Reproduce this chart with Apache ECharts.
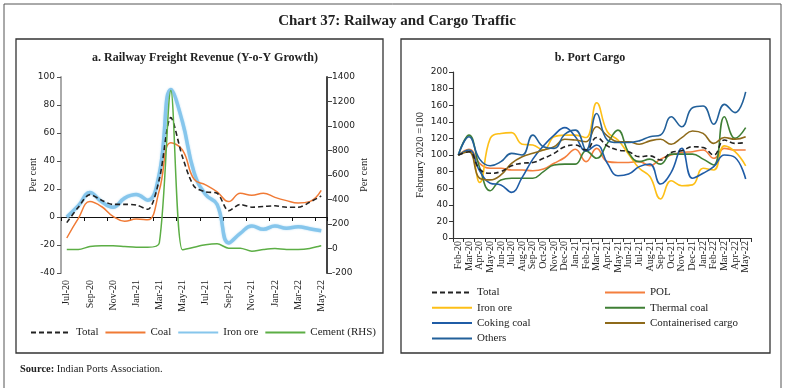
<!DOCTYPE html>
<html>
<head>
<meta charset="utf-8">
<script src="https://cdn.jsdelivr.net/npm/echarts@6/dist/echarts.min.js"></script>
<style>
html,body{margin:0;padding:0;background:#fff;}
#chart{width:785px;height:388px;}
</style>
</head>
<body>
<div id="chart"></div>
<script>
// ---------- Panel a: Railway Freight Revenue (Y-o-Y growth, per cent) ----------
const railMonths = ['Jul-20','Aug-20','Sep-20','Oct-20','Nov-20','Dec-20','Jan-21','Feb-21','Mar-21','Apr-21','May-21','Jun-21','Jul-21','Aug-21','Sep-21','Oct-21','Nov-21','Dec-21','Jan-22','Feb-22','Mar-22','Apr-22','May-22'];
const railTotal   = [-4, 7, 16, 12, 9, 9, 8.5, 5.5, 27, 71, 43, 22, 18, 17, 4.5, 9, 7, 7.5, 8, 7, 7, 10.5, 15];
const railCoal    = [-15, -1, 11, 7.5, 0.5, -3, -1.5, -2, 19, 53, 48, 27, 23, 18, 11, 17, 15.5, 17, 14, 11.7, 10, 11, 19];
const railIronOre = [0, 8, 17.5, 11, 7, 13.5, 16, 12, 31, 91, 68, 32, 16, 9, -18.5, -11.7, -6.4, -8.8, -6.4, -8, -7, -8.4, -9.8];
const railCement  = [-8, -8, 16, 22, 22, 16, 10, 10, 45, 1290, -11, 10, 30, 38, 3, 3, -22, -8, 0, -8, -8, 0, 24];
const leftTicks   = {min: -40, max: 100, interval: 20};
const rightTicks  = {min: -200, max: 1400, interval: 200};

// ---------- Panel b: Port Cargo (February 2020 = 100) ----------
const portMonths = ['Feb-20','Mar-20','Apr-20','May-20','Jun-20','Jul-20','Aug-20','Sep-20','Oct-20','Nov-20','Dec-20','Jan-21','Feb-21','Mar-21','Apr-21','May-21','Jun-21','Jul-21','Aug-21','Sep-21','Oct-21','Nov-21','Dec-21','Jan-22','Feb-22','Mar-22','Apr-22','May-22'];
const portTotal     = [100,104,83,78,80,87,90,91,96,102,110,112,106,121,111,106,104,98,99,94,103,105,110,109,100,118,114,115];
const portPOL       = [100,107,90,84,84,82,82,81,83,90,97,107,92,108,92,91,91,92,87,95,100,103,104,106,96,108,106,106];
const portIronOre   = [100,106,67,120,126,127,113,112,106,122,124,124,121,163,128,118,101,84,74,47,69,63,64,84,82,111,104,87];
const portThermal   = [100,124,85,57,70,72,72,72,80,88,89,89,105,96,114,130,103,92,95,89,101,101,101,95,88,146,120,133];
const portCoking    = [100,106,81,66,64,55,73,95,111,124,133,122,105,112,90,75,77,86,89,65,79,108,72,78,86,100,97,71];
const portContainer = [100,104,72,70,76,90,98,102,106,110,119,118,116,134,123,116,116,113,117,119,113,121,129,126,114,121,119,122];
const portOthers    = [100,122,95,87,92,102,100,124,110,108,125,130,106,150,118,115,115,117,122,124,146,134,157,159,137,161,151,176];
const portTicks = {min: 0, max: 200, interval: 20};

const SERIF = '"Liberation Serif", "DejaVu Serif", serif';
const SANS = '"DejaVu Sans", sans-serif';
const TXT = '#222';

const chart = echarts.init(document.getElementById('chart'), null, {renderer: 'canvas'});

const lineBase = {type: 'line', symbol: 'none', smooth: 0.45};
const plain = v => String(v);

const option = {
  animation: false,
  backgroundColor: '#fff',
  title: [
    {text: 'Chart 37: Railway and Cargo Traffic', left: 392, top: 9, textAlign: 'center',
     textStyle: {fontFamily: SERIF, fontSize: 15, fontWeight: 'bold', color: '#222'}},
    {text: 'a. Railway Freight Revenue (Y-o-Y Growth)', left: 200, top: 47, textAlign: 'center',
     textStyle: {fontFamily: SERIF, fontSize: 12, fontWeight: 'bold', color: '#222'}},
    {text: 'b. Port Cargo', left: 585, top: 47, textAlign: 'center',
     textStyle: {fontFamily: SERIF, fontSize: 12, fontWeight: 'bold', color: '#222'}},
    {text: '{b|Source:} Indian Ports Association.', left: 15, top: 359,
     textStyle: {fontFamily: SERIF, fontSize: 10.5, fontWeight: 'normal', color: '#222',
       rich: {b: {fontFamily: SERIF, fontSize: 10.5, fontWeight: 'bold', color: '#222'}}}}
  ],
  graphic: [
    {type: 'rect', shape: {x: 4, y: 4, width: 777, height: 400}, style: {fill: 'none', stroke: '#555', lineWidth: 1}, silent: true},
    {type: 'rect', shape: {x: 16, y: 39, width: 367, height: 314}, style: {fill: 'none', stroke: '#333', lineWidth: 1.3}, silent: true},
    {type: 'rect', shape: {x: 401, y: 39, width: 369, height: 314}, style: {fill: 'none', stroke: '#333', lineWidth: 1.3}, silent: true}
  ],
  legend: [
    {data: ['Total', 'Coal', 'Iron ore', 'Cement (RHS)'], left: 30, top: 327, orient: 'horizontal', padding: 0,
     itemWidth: 40, itemHeight: 10, itemGap: 6, selectedMode: false, itemStyle: {opacity: 0},
     textStyle: {fontFamily: SERIF, fontSize: 11, color: TXT}},
    {data: ['Total ', 'Iron ore ', 'Coking coal', 'Others'], left: 431, top: 287, orient: 'vertical', padding: 0,
     itemWidth: 40, itemHeight: 10, itemGap: 4.3, selectedMode: false, itemStyle: {opacity: 0},
     textStyle: {fontFamily: SERIF, fontSize: 11, color: TXT}},
    {data: ['POL', 'Thermal coal', 'Containerised cargo'], left: 604, top: 287, orient: 'vertical', padding: 0,
     itemWidth: 40, itemHeight: 10, itemGap: 4.3, selectedMode: false, itemStyle: {opacity: 0},
     textStyle: {fontFamily: SERIF, fontSize: 11, color: TXT}}
  ],
  grid: [
    {left: 61, top: 77, width: 266, height: 196},
    {left: 453, top: 72, width: 298, height: 166}
  ],
  xAxis: [
    {type: 'category', gridIndex: 0, data: railMonths, boundaryGap: true,
     axisLine: {show: true, onZero: true, onZeroAxisIndex: 0, lineStyle: {color: '#111', width: 1}},
     axisTick: {show: true, interval: 1, length: 4, lineStyle: {color: '#111'}},
     axisLabel: {show: false}, splitLine: {show: false}},
    {type: 'category', gridIndex: 0, data: railMonths, boundaryGap: true, position: 'bottom',
     axisLine: {show: false, onZero: false}, axisTick: {show: false},
     axisLabel: {show: true, interval: 1, rotate: 90, margin: 7, fontFamily: SERIF, fontSize: 10, color: TXT},
     splitLine: {show: false}},
    {type: 'category', gridIndex: 1, data: portMonths, boundaryGap: true,
     axisLine: {show: true, onZero: false, lineStyle: {color: '#333', width: 1.2}},
     axisTick: {show: true, interval: 0, length: 4, lineStyle: {color: '#333'}},
     axisLabel: {show: true, interval: 0, rotate: 90, margin: 3, fontFamily: SERIF, fontSize: 10, color: TXT},
     splitLine: {show: false}}
  ],
  yAxis: [
    {type: 'value', gridIndex: 0, position: 'left', min: leftTicks.min, max: leftTicks.max, interval: leftTicks.interval,
     name: 'Per cent', nameLocation: 'middle', nameGap: 22, nameMoveOverlap: false,
     nameTextStyle: {fontFamily: SERIF, fontSize: 10.5, color: TXT},
     axisLine: {show: true, onZero: false, lineStyle: {color: '#aaa', width: 2}},
     axisTick: {show: true, length: 4, lineStyle: {color: '#555'}},
     axisLabel: {fontFamily: SANS, fontSize: 9, color: TXT, margin: 6, formatter: plain}, splitLine: {show: false}},
    {type: 'value', gridIndex: 0, position: 'right', min: rightTicks.min, max: rightTicks.max, interval: rightTicks.interval,
     name: 'Per cent', nameLocation: 'middle', nameGap: 31, nameRotate: 90, nameTextStyle: {fontFamily: SERIF, fontSize: 10.5, color: TXT},
     axisLine: {show: true, onZero: false, lineStyle: {color: '#444', width: 2}},
     axisTick: {show: true, length: 5, lineStyle: {color: '#444'}},
     axisLabel: {fontFamily: SANS, fontSize: 9, color: TXT, margin: 5, formatter: plain}, splitLine: {show: false}},
    {type: 'value', gridIndex: 1, position: 'left', min: portTicks.min, max: portTicks.max, interval: portTicks.interval,
     name: 'February 2020 =100', nameLocation: 'middle', nameGap: 27, nameTextStyle: {fontFamily: SERIF, fontSize: 10.5, color: TXT},
     axisLine: {show: true, onZero: false, lineStyle: {color: '#333', width: 1.2}},
     axisTick: {show: true, length: 4, lineStyle: {color: '#333'}},
     axisLabel: {fontFamily: SANS, fontSize: 9, color: TXT, margin: 5, formatter: plain}, splitLine: {show: false}}
  ],
  series: [
    Object.assign({}, lineBase, {name: 'Iron ore', xAxisIndex: 0, yAxisIndex: 0, data: railIronOre, z: 2,
      lineStyle: {color: '#86c6ec', width: 3.5, shadowColor: 'rgba(150,205,240,0.7)', shadowBlur: 2}, itemStyle: {color: '#86c6ec'}}),
    Object.assign({}, lineBase, {name: 'Coal', xAxisIndex: 0, yAxisIndex: 0, data: railCoal, z: 3,
      lineStyle: {color: '#f07a35', width: 1.5}, itemStyle: {color: '#f07a35'}}),
    Object.assign({}, lineBase, {name: 'Total', xAxisIndex: 0, yAxisIndex: 0, data: railTotal, z: 4, smooth: 0.3,
      lineStyle: {color: '#222', width: 1.6, type: [5, 3]}, itemStyle: {color: '#222'}}),
    Object.assign({}, lineBase, {name: 'Cement (RHS)', xAxisIndex: 0, yAxisIndex: 1, data: railCement, z: 5, smooth: 0.3,
      lineStyle: {color: '#5cae45', width: 1.5}, itemStyle: {color: '#5cae45'}}),

    Object.assign({}, lineBase, {name: 'Total ', xAxisIndex: 2, yAxisIndex: 2, data: portTotal, z: 9,
      lineStyle: {color: '#222', width: 1.6, type: [5, 3]}, itemStyle: {color: '#222'}}),
    Object.assign({}, lineBase, {name: 'POL', xAxisIndex: 2, yAxisIndex: 2, data: portPOL, z: 3,
      lineStyle: {color: '#f47f3e', width: 1.6}, itemStyle: {color: '#f47f3e'}}),
    Object.assign({}, lineBase, {name: 'Iron ore ', xAxisIndex: 2, yAxisIndex: 2, data: portIronOre, z: 4,
      lineStyle: {color: '#fdbf17', width: 1.6}, itemStyle: {color: '#fdbf17'}}),
    Object.assign({}, lineBase, {name: 'Thermal coal', xAxisIndex: 2, yAxisIndex: 2, data: portThermal, z: 5,
      lineStyle: {color: '#3f7f35', width: 1.6}, itemStyle: {color: '#3f7f35'}}),
    Object.assign({}, lineBase, {name: 'Coking coal', xAxisIndex: 2, yAxisIndex: 2, data: portCoking, z: 6,
      lineStyle: {color: '#1f5ca6', width: 1.6}, itemStyle: {color: '#1f5ca6'}}),
    Object.assign({}, lineBase, {name: 'Containerised cargo', xAxisIndex: 2, yAxisIndex: 2, data: portContainer, z: 7,
      lineStyle: {color: '#8e6a1a', width: 1.6}, itemStyle: {color: '#8e6a1a'}}),
    Object.assign({}, lineBase, {name: 'Others', xAxisIndex: 2, yAxisIndex: 2, data: portOthers, z: 8,
      lineStyle: {color: '#22609a', width: 1.6}, itemStyle: {color: '#22609a'}})
  ]
};
chart.setOption(option);
</script>
</body>
</html>
